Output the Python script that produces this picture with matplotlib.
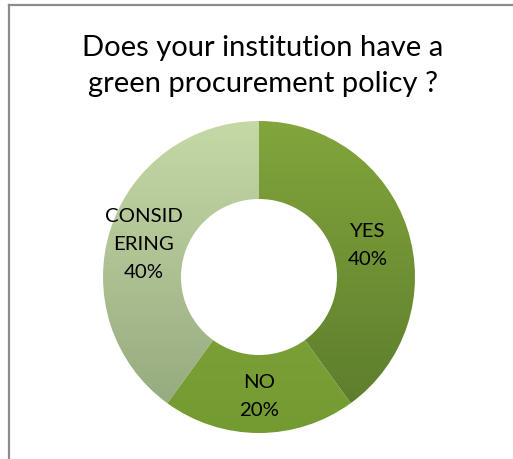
import numpy as np
import matplotlib.pyplot as plt
from matplotlib.colors import LinearSegmentedColormap

labels = ['YES', 'NO', 'CONSID\nERING']
values = [40, 20, 40]
top_colors = ['#82a53c', '#86ad3f', '#c5d9a6']
bottom_colors = ['#5a7a2b', '#749a32', '#92a67c']
title = 'Does your institution have a\ngreen procurement policy ?'

plt.rcParams['font.family'] = ['Lato', 'DejaVu Sans']

fig = plt.figure(figsize=(5.13, 4.59), dpi=100)
fig.patch.set_facecolor('white')

# frame: only top and left edges visible in the original crop
fig.add_artist(plt.Line2D([8.5 / 513, 1], [1 - 4.5 / 459, 1 - 4.5 / 459],
                          color='#8c8c8c', lw=1.6, transform=fig.transFigure))
fig.add_artist(plt.Line2D([8.5 / 513, 8.5 / 513], [0, 1 - 4.5 / 459],
                          color='#8c8c8c', lw=1.6, transform=fig.transFigure))

fig.text(263 / 513, 1 - 66 / 459, title, ha='center', va='center',
         fontsize=21, linespacing=1.5)

# donut axes: center (259, 277), radius ~156 px
r_px = 156
ax = fig.add_axes([(259 - r_px) / 513, 1 - (277 + r_px) / 459,
                   2 * r_px / 513, 2 * r_px / 459])
wedges, _ = ax.pie(values, startangle=90, counterclock=False,
                   radius=1, wedgeprops=dict(width=0.5, edgecolor='none'))

grad = np.linspace(0, 1, 256).reshape(-1, 1)
for w, c1, c2 in zip(wedges, top_colors, bottom_colors):
    w.set_facecolor('none')
    cmap = LinearSegmentedColormap.from_list('g', [c1, c2])
    im = ax.imshow(grad, cmap=cmap, extent=[-1, 1, -1, 1], origin='upper',
                   aspect='auto', zorder=w.get_zorder() - 0.1)
    im.set_clip_path(w)
ax.set_xlim(-1, 1)
ax.set_ylim(-1, 1)
ax.axis('off')

# data labels
label_pos = [(0.70, 0.20), (0.0, -0.765), (-0.74, 0.21)]
for lab, v, (x, y) in zip(labels, values, label_pos):
    ax.text(x, y, f'{lab}\n{v}%', ha='center', va='center',
            fontsize=14.7, linespacing=1.78)

fig.savefig('out.png', dpi=100)
